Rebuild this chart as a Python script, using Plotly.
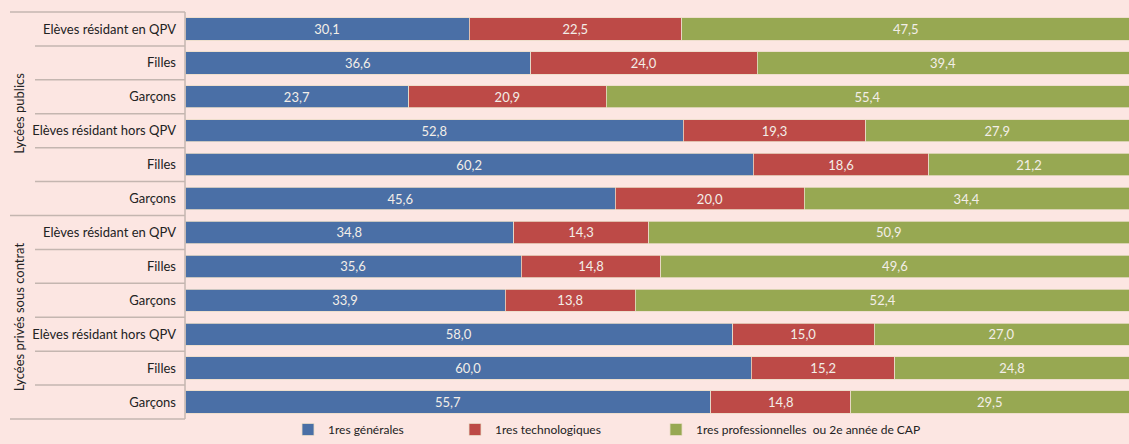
import plotly.graph_objects as go

categories = ["Elèves résidant en QPV", "Filles", "Garçons",
              "Elèves résidant hors QPV", "Filles", "Garçons",
              "Elèves résidant en QPV", "Filles", "Garçons",
              "Elèves résidant hors QPV", "Filles", "Garçons"]
groups = ["Lycées publics", "Lycées privés sous contrat"]
series_names = ["1res générales", "1res technologiques",
                "1res professionnelles  ou 2e année de CAP"]
generales = [30.1, 36.6, 23.7, 52.8, 60.2, 45.6, 34.8, 35.6, 33.9, 58.0, 60.0, 55.7]
technologiques = [22.5, 24.0, 20.9, 19.3, 18.6, 20.0, 14.3, 14.8, 13.8, 15.0, 15.2, 14.8]
professionnelles = [47.5, 39.4, 55.4, 27.9, 21.2, 34.4, 50.9, 49.6, 52.4, 27.0, 24.8, 29.5]

colors = ["#4a6fa6", "#bd4a47", "#97a852"]
bg = "#fce6e2"
line_col = "#c4b6b0"
font_family = "Lato, 'Open Sans', sans-serif"

ypos = list(range(len(categories)))

W, H = 1129, 444
ml, mr, mt, mb = 185, 0, 12, 0
plot_bottom_px = 419
pw = W - ml - mr
ph_total = H - mt - mb
ydomain_low = (H - plot_bottom_px) / ph_total

def px_to_xpaper(px):
    return (px - ml) / pw

legend_names = ["legend", "legend2", "legend3"]
legend_text_x = [328, 495, 696]

fig = go.Figure()
for name, vals, col, lg in zip(series_names, [generales, technologiques, professionnelles], colors, legend_names):
    fig.add_trace(go.Bar(
        y=ypos, x=vals, name=name, orientation="h",
        marker=dict(color=col, line=dict(color="#eadcc8", width=0.8)),
        width=0.66,
        texttemplate="%{x:.1f}", textposition="inside", insidetextanchor="middle",
        textfont=dict(color="#f3eee8", size=13, family=font_family),
        hoverinfo="skip", legend=lg,
    ))

shapes = []
n = len(categories)
for i in range(n + 1):
    y = 1 - i / n
    is_group = i in (0, 6, 12)
    x0 = px_to_xpaper(10 if is_group else 35)
    shapes.append(dict(type="line", xref="paper", yref="y domain", x0=x0, x1=0, y0=y, y1=y,
                       line=dict(color=line_col, width=1.5)))
shapes.append(dict(type="line", xref="paper", yref="y domain", x0=0, x1=0, y0=0, y1=1,
                   line=dict(color=line_col, width=1.5)))

annotations = []
for gi, g in enumerate(groups):
    yc = 1 - (gi * 6 + 3) / n
    annotations.append(dict(text=g, xref="paper", yref="y domain", x=px_to_xpaper(19), y=yc,
                            textangle=-90, showarrow=False, xanchor="center", yanchor="middle",
                            font=dict(size=13, color="#222222", family=font_family)))

legend_common = dict(orientation="h", xanchor="left", yanchor="bottom", y=0,
                     font=dict(size=12, color="#222222", family=font_family),
                     bgcolor="rgba(0,0,0,0)", itemclick=False, itemdoubleclick=False)

fig.update_layout(
    width=W, height=H,
    margin=dict(l=ml, r=mr, t=mt, b=mb),
    paper_bgcolor=bg, plot_bgcolor=bg,
    barmode="stack",
    separators=", ",
    font=dict(family=font_family, size=13, color="#222222"),
    xaxis=dict(range=[0, 100], visible=False, fixedrange=True),
    yaxis=dict(range=[n - 0.5, -0.5], tickvals=ypos, ticktext=categories, domain=[ydomain_low, 1],
               showgrid=False, zeroline=False, ticks="", ticklabelstandoff=8,
               tickfont=dict(size=13, color="#222222", family=font_family)),
    legend=dict(x=px_to_xpaper(legend_text_x[0] - 40), **legend_common),
    legend2=dict(x=px_to_xpaper(legend_text_x[1] - 40), **legend_common),
    legend3=dict(x=px_to_xpaper(legend_text_x[2] - 40), **legend_common),
    shapes=shapes,
    annotations=annotations,
    showlegend=True,
)

fig.write_html("out.html")
